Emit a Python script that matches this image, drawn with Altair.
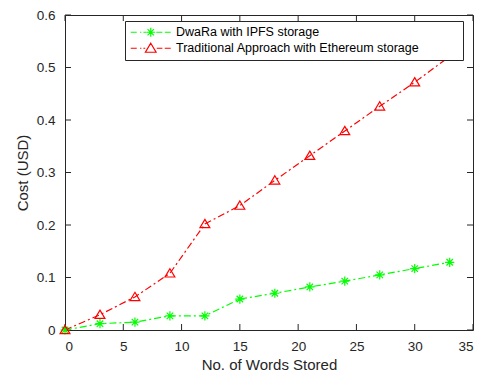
import altair as alt
import pandas as pd

words = [0, 3, 6, 9, 12, 15, 18, 21, 24, 27, 30, 33]
dwara = [0, 0.012, 0.015, 0.027, 0.027, 0.059, 0.070, 0.082, 0.093, 0.105, 0.117, 0.129]
trad = [0, 0.029, 0.063, 0.108, 0.202, 0.237, 0.285, 0.332, 0.379, 0.426, 0.472, 0.521]
series_names = ["DwaRa with IPFS storage", "Traditional Approach with Ethereum storage"]
colors = ["#00ff00", "#ff0000"]
x_ticks = [0, 5, 10, 15, 20, 25, 30, 35]
y_ticks = [0, 0.1, 0.2, 0.3, 0.4, 0.5, 0.6]

rows = []
for name, vals in zip(series_names, [dwara, trad]):
    for w, v in zip(words, vals):
        rows.append({"words": w, "cost": v, "series": name})
df = pd.DataFrame(rows)
xt_df = pd.DataFrame({"t": x_ticks})
yt_df = pd.DataFrame({"t": y_ticks})

W, H = 408, 315
AX = "#262626"
FONT = "Liberation Sans"

xs = alt.Scale(domain=[0, 35], nice=False, zero=False)
ys = alt.Scale(domain=[0, 0.6], nice=False)

AST = "M-1,0L1,0M0,-1L0,1M-0.7,-0.7L0.7,0.7M-0.7,0.7L0.7,-0.7"
TRI = "M0,-1L1.07,0.8L-1.07,0.8Z"

# legend glyphs: dash-dot line with the marker in the middle
LEG_G = ("M-4,0L-2.8,0M-2.13,0L-1.87,0M-1.47,0L-0.95,0"
         "M-0.9,0L0.9,0M0,-0.9L0,0.9M-0.64,-0.64L0.64,0.64M-0.64,0.64L0.64,-0.64"
         "M1.1,0L2.33,0M2.8,0L4,0")
LEG_R = ("M-4,0L-2.8,0M-2.13,0L-1.87,0M-1.47,0L-1.1,0"
         "M0,-1L1.07,0.8L-1.07,0.8Z"
         "M1.2,0L2.33,0M2.8,0L4,0")

sym_expr = "datum.value == '%s' ? '%s' : '%s'" % (series_names[0], LEG_G, LEG_R)
# blank room at the right end of the legend box
pad_expr = "datum.label + '" + "\u00a0" * 8 + "\u2800'"

color_scale = alt.Scale(domain=series_names, range=colors)

legend = alt.Legend(
    title=None,
    orient="none",
    legendX=60,
    legendY=6,
    padding=5,
    symbolSize=100,
    symbolOffset=14.5,
    labelOffset=19,
    rowPadding=0,
    strokeColor=AX,
    fillColor="white",
    labelFont=FONT,
    labelFontSize=12.5,
    labelColor="#000000",
    labelLimit=0,
    symbolStrokeWidth=1.2,
    symbolFillColor="transparent",
    symbolType=alt.ExprRef(expr=sym_expr),
    labelExpr=pad_expr,
)

x_axis = alt.Axis(title="No. of Words Stored", values=x_ticks, format="d")
y_axis = alt.Axis(title="Cost (USD)", values=y_ticks, format="~g")

lines = alt.Chart(df).mark_line(strokeWidth=1.2, strokeDash=[7, 3, 2, 3]).encode(
    x=alt.X("words:Q", scale=xs, axis=x_axis),
    y=alt.Y("cost:Q", scale=ys, axis=y_axis),
    color=alt.Color("series:N", scale=color_scale, legend=legend, sort=series_names),
    detail="series:N",
)

pts = []
for name, col, shp in zip(series_names, colors, [AST, TRI]):
    pts.append(
        alt.Chart(df).transform_filter(alt.datum.series == name)
        .mark_point(filled=False, strokeWidth=1.2, size=85, opacity=1, shape=shp, color=col, clip=False)
        .encode(x=alt.X("words:Q", scale=xs, axis=x_axis), y=alt.Y("cost:Q", scale=ys, axis=y_axis))
    )

tb = alt.Chart(xt_df).mark_rule(color=AX, strokeWidth=1).encode(
    x=alt.X("t:Q", scale=xs, axis=x_axis), y=alt.value(H), y2=alt.value(H - 6))
tt = alt.Chart(xt_df).mark_rule(color=AX, strokeWidth=1).encode(
    x=alt.X("t:Q", scale=xs, axis=x_axis), y=alt.value(0), y2=alt.value(6))
tl = alt.Chart(yt_df).mark_rule(color=AX, strokeWidth=1).encode(
    y=alt.Y("t:Q", scale=ys, axis=y_axis), x=alt.value(0), x2=alt.value(6))
tr = alt.Chart(yt_df).mark_rule(color=AX, strokeWidth=1).encode(
    y=alt.Y("t:Q", scale=ys, axis=y_axis), x=alt.value(W), x2=alt.value(W - 6))

chart = alt.layer(tb, tt, tl, tr, lines, *pts).properties(
    width=W, height=H,
    autosize=alt.AutoSizeParams(type="none"),
    padding={"left": 57, "top": 7, "right": 2, "bottom": 42},
).configure_view(
    stroke=AX, strokeWidth=1
).configure_axis(
    domain=False, ticks=False, grid=False,
    labelFont=FONT, labelFontSize=13.5, labelColor=AX,
    titleFont=FONT, titleFontSize=15, titleFontWeight="normal", titleColor=AX,
).configure_axisX(
    labelPadding=9, titlePadding=5,
).configure_axisY(
    labelPadding=10, titlePadding=6,
)

chart.save("out.html", embed_options={"renderer": "svg", "actions": False})
